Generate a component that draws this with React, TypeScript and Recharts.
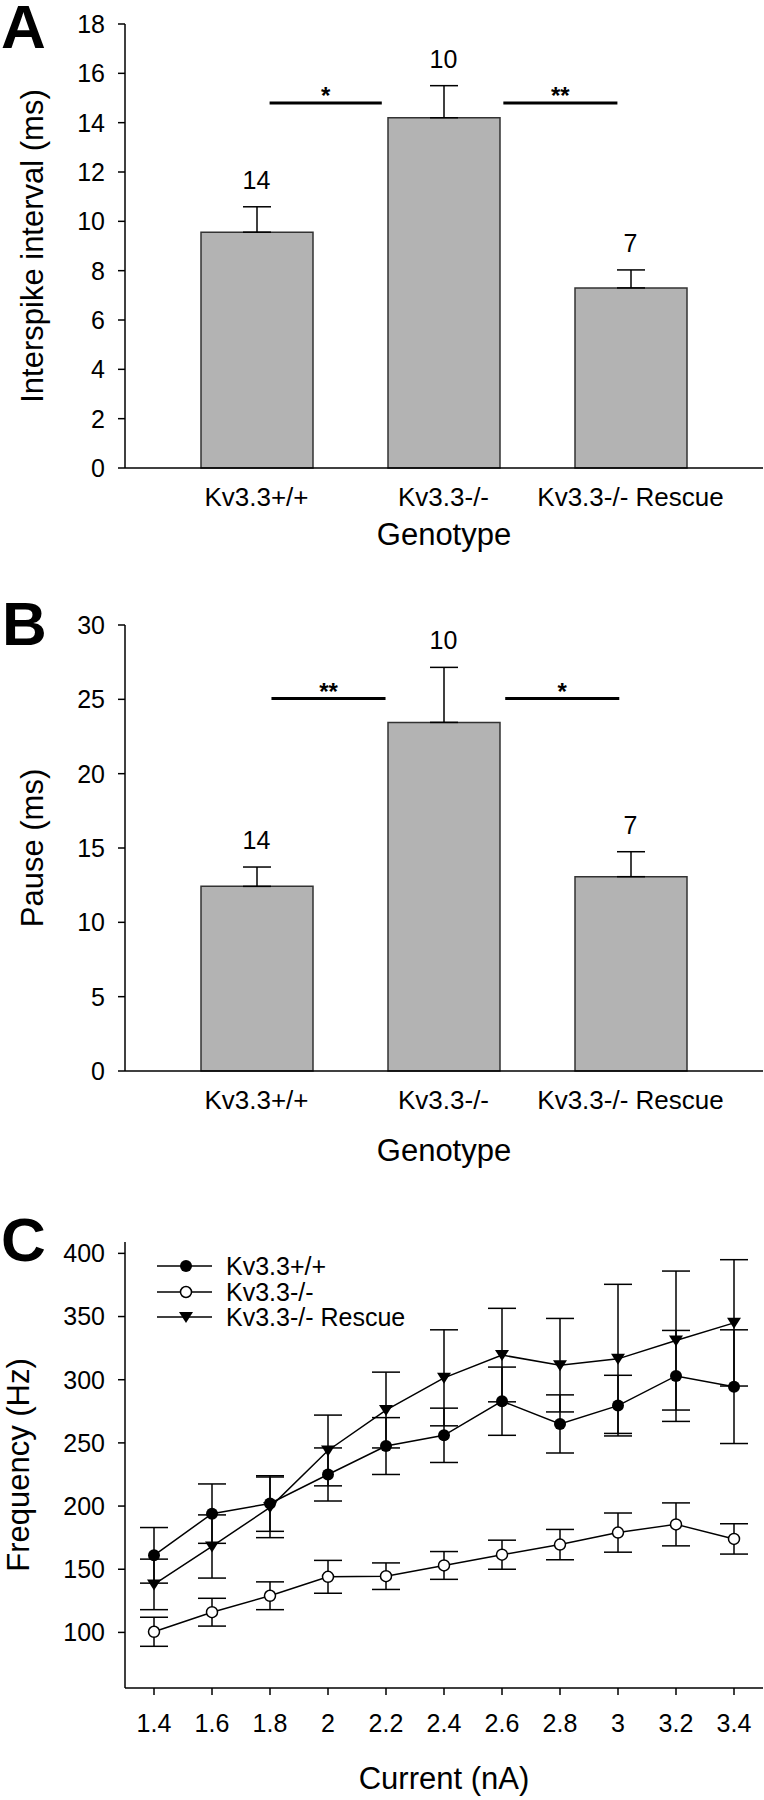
import {
  ComposedChart,
  LineChart,
  Bar,
  Line,
  XAxis,
  YAxis,
  ErrorBar,
  LabelList,
  ReferenceLine,
  Legend,
} from "recharts";

const FONT = "'Liberation Sans', Arial, sans-serif";

// Panels A and B
const genotypes = ["Kv3.3+/+", "Kv3.3-/-", "Kv3.3-/- Rescue"];
const nCells = ["14", "10", "7"];
const isiMean = [9.56, 14.2, 7.3];
const isiSem = [1.03, 1.3, 0.73];
const pauseMean = [12.42, 23.45, 13.07];
const pauseSem = [1.3, 3.7, 1.68];

const isiTicks = [0, 2, 4, 6, 8, 10, 12, 14, 16, 18];
const pauseTicks = [0, 5, 10, 15, 20, 25, 30];

// significance bars, x in category index units (0 = first bar centre)
const sigMarksA = ["*", "**"];
const sigStartA = [0.07, 1.32];
const sigEndA = [0.67, 1.93];
const sigLevelA = 14.8;
const sigMarksB = ["**", "*"];
const sigStartB = [0.08, 1.33];
const sigEndB = [0.69, 1.94];
const sigLevelB = 25.05;

// Panel C
const currents = [1.4, 1.6, 1.8, 2, 2.2, 2.4, 2.6, 2.8, 3, 3.2, 3.4];
const wtFreq = [161, 194, 202, 225, 247.5, 256, 283, 265, 279.5, 303, 294.5];
const wtSem = [22, 23.5, 22, 21, 22.5, 21.5, 27, 23, 24, 36, 45];
const koFreq = [100.5, 116, 129, 144, 144.5, 153, 161.5, 169.5, 179, 185.5, 174];
const koSem = [11.5, 11, 11, 13, 10.5, 11, 11.5, 12, 15.5, 17, 12];
const rescueFreq = [138, 168, 199, 244, 276, 301.5, 319.5, 311.5, 316.5, 331, 345];
const rescueSem = [20, 25, 24, 28, 30, 38, 37, 37, 59, 55, 50];
const freqTicks = [100, 150, 200, 250, 300, 350, 400];
const seriesNames = ["Kv3.3+/+", "Kv3.3-/-", "Kv3.3-/- Rescue"];

const axisStyle = { stroke: "#000", strokeWidth: 1.5 };
const tickFont = { fontSize: 25, fill: "#000" };
const titleStyle = { fontSize: 31, fill: "#000" };

// bar centres sit at 0,1,2; side gaps of 38/39 px with 187 px per category
const barDomain = [-0.5 - 38 / 187, 2.5 + 39 / 187];
const barTicks = [0, 1, 2];

function BarPanel(props: {
  mean: number[];
  sem: number[];
  yMax: number;
  yTicks: number[];
  yLabel: string;
  marks: string[];
  starts: number[];
  ends: number[];
  level: number;
  height: number;
  top: number;
  axisHeight: number;
  titleOffset: number;
}) {
  const rows = genotypes.map((g, i) => ({
    pos: i,
    genotype: g,
    mean: props.mean[i],
    sem: [0, props.sem[i]],
    top: props.mean[i] + props.sem[i],
    n: nCells[i],
  }));

  return (
    <ComposedChart
      width={764}
      height={props.height}
      data={rows}
      margin={{ top: props.top, right: 1, bottom: 0, left: 0 }}
    >
      <XAxis
        dataKey="pos"
        type="number"
        domain={barDomain}
        allowDataOverflow
        ticks={barTicks}
        tickFormatter={(v) => genotypes[v]}
        tickLine={false}
        tickSize={0}
        tickMargin={20}
        height={props.axisHeight}
        interval={0}
        axisLine={axisStyle}
        tick={{ fontSize: 26, fill: "#000" }}
        label={{
          value: "Genotype",
          position: "insideBottom",
          offset: props.titleOffset,
          fill: "#000",
          style: titleStyle,
        }}
      />
      <YAxis
        domain={[0, props.yMax]}
        ticks={props.yTicks}
        width={125}
        tickSize={7}
        tickMargin={13}
        axisLine={axisStyle}
        tickLine={axisStyle}
        tick={tickFont}
        label={{
          value: props.yLabel,
          angle: -90,
          position: "insideLeft",
          offset: 32,
          fill: "#000",
          style: { ...titleStyle, textAnchor: "middle" },
        }}
      />
      <Bar
        dataKey="mean"
        barSize={112}
        fill="#b3b3b3"
        stroke="#333"
        strokeWidth={1.5}
        isAnimationActive={false}
      >
        <ErrorBar dataKey="sem" width={14} stroke="#000" strokeWidth={1.5} direction="y" />
      </Bar>
      <Line
        dataKey="top"
        stroke="none"
        dot={false}
        activeDot={false}
        legendType="none"
        isAnimationActive={false}
      >
        <LabelList dataKey="n" position="top" offset={18} fill="#000" fontSize={25} />
      </Line>
      {props.marks.map((m, i) => (
        <ReferenceLine
          key={i}
          segment={[
            { x: props.starts[i], y: props.level },
            { x: props.ends[i], y: props.level },
          ]}
          stroke="#000"
          strokeWidth={3}
          label={{
            value: m,
            position: "top",
            offset: -1,
            fill: "#000",
            style: { fontSize: 24, fontWeight: 700, fill: "#000" },
          }}
        />
      ))}
    </ComposedChart>
  );
}

const filledDot = (p: any) => (
  <circle key={`w${p.index}`} cx={p.cx} cy={p.cy} r={6} fill="#000" />
);
const openDot = (p: any) => (
  <circle
    key={`k${p.index}`}
    cx={p.cx}
    cy={p.cy}
    r={5.5}
    fill="#fff"
    stroke="#000"
    strokeWidth={1.5}
  />
);
const triDot = (p: any) => (
  <path
    key={`r${p.index}`}
    d={`M${p.cx - 7},${p.cy - 5} L${p.cx + 7},${p.cy - 5} L${p.cx},${p.cy + 6} Z`}
    fill="#000"
  />
);
const markers = [filledDot, openDot, triDot];

function renderLegend() {
  return (
    <div style={{ position: "relative", width: 340, height: 80, fontFamily: FONT }}>
      {seriesNames.map((name, i) => (
        <div
          key={name}
          style={{
            position: "absolute",
            left: 0,
            top: i * 25.5,
            height: 26,
            display: "flex",
            alignItems: "center",
            whiteSpace: "nowrap",
          }}
        >
          <svg width={58} height={26}>
            <line x1={0} y1={13} x2={55} y2={13} stroke="#000" strokeWidth={1.5} />
            {markers[i]({ cx: 29, cy: 13, index: 0 })}
          </svg>
          <span style={{ marginLeft: 11, fontSize: 25, lineHeight: "26px", color: "#000" }}>
            {name}
          </span>
        </div>
      ))}
    </div>
  );
}

function FrequencyPanel() {
  const rows = currents.map((c, i) => ({
    current: c,
    wt: wtFreq[i],
    wtSem: wtSem[i],
    ko: koFreq[i],
    koSem: koSem[i],
    rescue: rescueFreq[i],
    rescueSem: rescueSem[i],
  }));

  return (
    <LineChart
      width={764}
      height={629}
      data={rows}
      margin={{ top: 71, right: 1, bottom: 0, left: 0 }}
    >
      <XAxis
        dataKey="current"
        type="number"
        domain={[1.3, 3.5]}
        ticks={currents}
        tickSize={7}
        tickMargin={19}
        height={112}
        axisLine={axisStyle}
        tickLine={axisStyle}
        tick={tickFont}
        label={{
          value: "Current (nA)",
          position: "insideBottom",
          offset: 11,
          fill: "#000",
          style: titleStyle,
        }}
      />
      <YAxis
        domain={[56, 409]}
        ticks={freqTicks}
        width={125}
        tickSize={7}
        tickMargin={13}
        axisLine={axisStyle}
        tickLine={axisStyle}
        tick={tickFont}
        label={{
          value: "Frequency (Hz)",
          angle: -90,
          position: "insideLeft",
          offset: 18,
          fill: "#000",
          style: { ...titleStyle, textAnchor: "middle" },
        }}
      />
      <Legend
        layout="vertical"
        align="center"
        verticalAlign="middle"
        wrapperStyle={{ left: 157, top: 82, width: 340, height: 80 }}
        content={renderLegend}
      />
      <Line
        dataKey="wt"
        name={seriesNames[0]}
        stroke="#000"
        strokeWidth={1.5}
        dot={filledDot}
        isAnimationActive={false}
      >
        <ErrorBar dataKey="wtSem" width={14} stroke="#000" strokeWidth={1.5} direction="y" />
      </Line>
      <Line
        dataKey="rescue"
        name={seriesNames[2]}
        stroke="#000"
        strokeWidth={1.5}
        dot={triDot}
        isAnimationActive={false}
      >
        <ErrorBar dataKey="rescueSem" width={14} stroke="#000" strokeWidth={1.5} direction="y" />
      </Line>
      <Line
        dataKey="ko"
        name={seriesNames[1]}
        stroke="#000"
        strokeWidth={1.5}
        dot={openDot}
        isAnimationActive={false}
      >
        <ErrorBar dataKey="koSem" width={14} stroke="#000" strokeWidth={1.5} direction="y" />
      </Line>
    </LineChart>
  );
}

export default function App() {
  return (
    <div
      style={{
        position: "relative",
        width: 764,
        height: 1800,
        background: "#fff",
        fontFamily: FONT,
      }}
    >
      <style>{"body{margin:0;}"}</style>
      <BarPanel
        mean={isiMean}
        sem={isiSem}
        yMax={18}
        yTicks={isiTicks}
        yLabel="Interspike interval (ms)"
        marks={sigMarksA}
        starts={sigStartA}
        ends={sigEndA}
        level={sigLevelA}
        height={563}
        top={24}
        axisHeight={95}
        titleOffset={18}
      />
      <BarPanel
        mean={pauseMean}
        sem={pauseSem}
        yMax={30}
        yTicks={pauseTicks}
        yLabel="Pause (ms)"
        marks={sigMarksB}
        starts={sigStartB}
        ends={sigEndB}
        level={sigLevelB}
        height={608}
        top={62}
        axisHeight={100}
        titleOffset={10}
      />
      <FrequencyPanel />
      <svg
        width={764}
        height={1800}
        style={{ position: "absolute", left: 0, top: 0, pointerEvents: "none" }}
      >
        <g fontFamily={FONT} fontWeight={700} fontSize={62} fill="#000">
          <text x={1} y={48}>A</text>
          <text x={2} y={645}>B</text>
          <text x={1} y={1261}>C</text>
        </g>
      </svg>
    </div>
  );
}
